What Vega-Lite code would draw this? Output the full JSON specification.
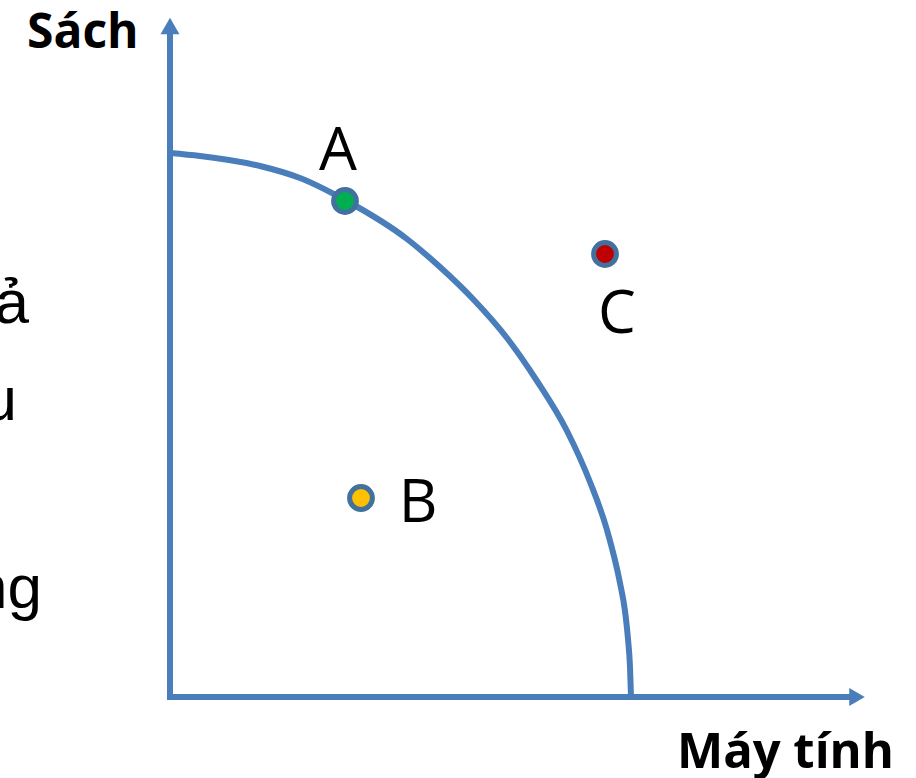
{
  "$schema": "https://vega.github.io/schema/vega-lite/v6.json",
  "width": 916,
  "height": 778,
  "autosize": {"type": "none"},
  "padding": 0,
  "background": "white",
  "config": {"view": {"stroke": null}},
  "datasets": {
    "axes": [
      {"axis": "Sách", "x": 0, "y": -3, "x2": 0, "y2": 665},
      {"axis": "Máy tính", "x": -3, "y": 0, "x2": 680, "y2": 0}
    ],
    "arrowY": [{"x": 0, "y": 671}],
    "arrowX": [{"x": 687, "y": 0}],
    "ppf": [
      {"x": 0, "y": 544},
      {"x": 30, "y": 541},
      {"x": 90, "y": 531},
      {"x": 130, "y": 519},
      {"x": 175, "y": 497},
      {"x": 237, "y": 458},
      {"x": 270, "y": 430},
      {"x": 303, "y": 398},
      {"x": 337, "y": 359},
      {"x": 367, "y": 316},
      {"x": 397, "y": 266},
      {"x": 420, "y": 215},
      {"x": 437, "y": 167},
      {"x": 450, "y": 114},
      {"x": 455, "y": 86},
      {"x": 458, "y": 58},
      {"x": 460, "y": 30},
      {"x": 461, "y": 0}
    ],
    "points": [
      {"label": "A", "x": 175, "y": 496},
      {"label": "B", "x": 191, "y": 199},
      {"label": "C", "x": 435, "y": 443}
    ],
    "labels": [
      {"text": "A", "x": 168, "y": 527},
      {"text": "B", "x": 248, "y": 175},
      {"text": "C", "x": 447, "y": 364}
    ],
    "ytitle": [{"text": "Sách", "x": -143, "y": 649}],
    "xtitle": [{"text": "Máy tính", "x": 724, "y": -71}],
    "side": [
      {"text": "ả", "x": -141, "y": 374},
      {"text": "u", "x": -153, "y": 277},
      {"text": "ng", "x": -128, "y": 89}
    ]
  },
  "encoding": {
    "x": {"field": "x", "type": "quantitative", "scale": {"domain": [-170, 746], "nice": false, "zero": false}, "axis": null},
    "y": {"field": "y", "type": "quantitative", "scale": {"domain": [-81, 697], "nice": false, "zero": false}, "axis": null}
  },
  "layer": [
    {
      "data": {"name": "axes"},
      "mark": {"type": "rule", "color": "#4A7EBB", "strokeWidth": 6, "strokeCap": "butt"},
      "encoding": {"x2": {"field": "x2"}, "y2": {"field": "y2"}}
    },
    {
      "data": {"name": "arrowY"},
      "mark": {"type": "point", "shape": "triangle-up", "filled": true, "size": 360, "color": "#4A7EBB", "opacity": 1}
    },
    {
      "data": {"name": "arrowX"},
      "mark": {"type": "point", "shape": "triangle-right", "filled": true, "size": 320, "color": "#4A7EBB", "opacity": 1}
    },
    {
      "data": {"name": "ppf"},
      "mark": {"type": "line", "interpolate": "monotone", "color": "#4A7EBB", "strokeWidth": 6}
    },
    {
      "data": {"name": "points"},
      "mark": {"type": "point", "shape": "circle", "filled": true, "size": 520, "stroke": "#41719C", "strokeWidth": 5, "opacity": 1, "strokeOpacity": 1},
      "encoding": {
        "fill": {"field": "label", "type": "nominal", "scale": {"domain": ["A", "B", "C"], "range": ["#00B050", "#FFC000", "#C00000"]}, "legend": null}
      }
    },
    {
      "data": {"name": "labels"},
      "mark": {"type": "text", "font": "Open Sans", "fontSize": 60, "align": "center", "baseline": "alphabetic", "color": "#000000"},
      "encoding": {"text": {"field": "text"}}
    },
    {
      "data": {"name": "ytitle"},
      "mark": {"type": "text", "font": "Open Sans", "fontSize": 48, "fontWeight": "bold", "align": "left", "baseline": "alphabetic", "color": "#000000"},
      "encoding": {"text": {"field": "text"}}
    },
    {
      "data": {"name": "xtitle"},
      "mark": {"type": "text", "font": "Open Sans", "fontSize": 49, "fontWeight": "bold", "align": "right", "baseline": "alphabetic", "color": "#000000"},
      "encoding": {"text": {"field": "text"}}
    },
    {
      "data": {"name": "side"},
      "mark": {"type": "text", "font": "Liberation Sans", "fontSize": 62, "align": "right", "baseline": "alphabetic", "color": "#000000"},
      "encoding": {"text": {"field": "text"}}
    }
  ]
}
